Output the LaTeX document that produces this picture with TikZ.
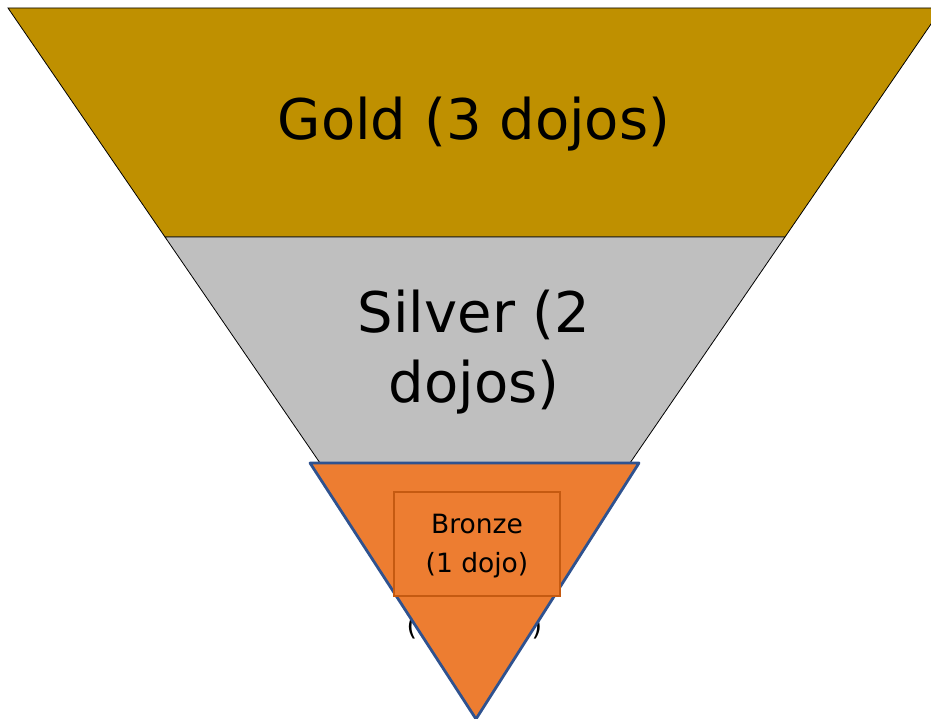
\documentclass[tikz,border=0pt]{standalone}
\usepackage{fontspec}
\setmainfont{DejaVu Sans}
\definecolor{goldc}{HTML}{BF9000}
\definecolor{silverc}{HTML}{BFBFBF}
\definecolor{bronzec}{HTML}{ED7D31}
\definecolor{bluec}{HTML}{2F528F}
\definecolor{boxc}{HTML}{C55A11}
\begin{document}
\begin{tikzpicture}[x=1pt,y=-1pt,
  band/.style={draw=black,line width=0.8pt},
  bigtext/.style={font=\fontsize{56}{70}\selectfont,text=black,align=center},
  smalltext/.style={font=\fontsize{26.5}{39}\selectfont,text=black,align=center}]
\useasboundingbox (0,0) rectangle (931,719);
\clip (0,0) rectangle (931,719);
% hidden original text remnants
\node[font=\fontsize{27}{30}\selectfont,anchor=base] (lp) at (412,635) {(};
\node[font=\fontsize{27}{30}\selectfont,anchor=base] (rp) at (537,635) {)};
% gold band
\filldraw[band,fill=goldc] (8,8) -- (942,8) -- (785,237) -- (165,237) -- cycle;
% silver band
\filldraw[band,fill=silverc] (165,237) -- (785,237) -- (630,463) -- (320,463) -- cycle;
% bronze triangle
\filldraw[fill=bronzec,draw=bluec,line width=2.8pt,line join=round] (310,463) -- (639,463) -- (476,719) -- cycle;
% bronze box
\node[draw=boxc,fill=bronzec,line width=2pt,minimum width=166pt,minimum height=104pt,inner sep=0pt] (bbox) at (477,544) {};
\node[smalltext,anchor=base] (btext) at (477,572) {Bronze\\(1 dojo)};
% texts
\node[bigtext,anchor=base] (gtext) at (474,140) {Gold (3 dojos)};
\node[bigtext,anchor=base] (stext) at (474,402) {Silver (2\\dojos)};
\end{tikzpicture}
\end{document}
